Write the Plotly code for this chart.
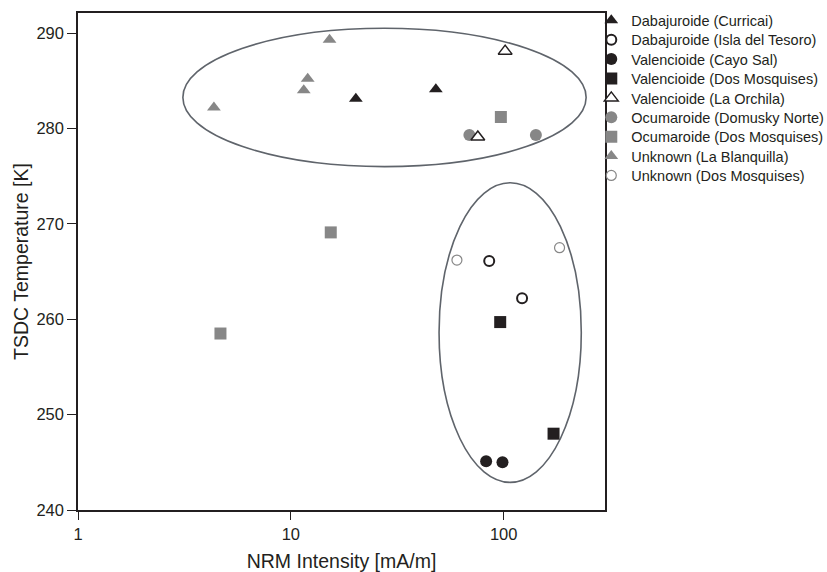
import plotly.graph_objects as go

# ---- data ----
curricai_x = [20.2, 48.0]
curricai_y = [283.1, 284.1]
tesoro_x = [85.5, 122.0]
tesoro_y = [266.1, 262.2]
cayosal_x = [82.7, 98.7]
cayosal_y = [245.1, 245.0]
valdos_x = [96.3, 171.5]
valdos_y = [259.7, 248.0]
orchila_x = [101.6, 75.6]
orchila_y = [288.1, 279.1]
domusky_x = [69.0, 141.7]
domusky_y = [279.3, 279.3]
ocudos_x = [97.0, 15.4, 4.67]
ocudos_y = [281.2, 269.1, 258.5]
blanq_x = [4.35, 11.5, 12.0, 15.2]
blanq_y = [282.2, 284.0, 285.2, 289.3]
unkdos_x = [60.3, 183.0]
unkdos_y = [266.2, 267.5]

x_ticks = [1, 10, 100]
x_ticklabels = ["1", "10", "100"]
y_ticks = [240, 250, 260, 270, 280, 290]

# ellipses (data coordinates of bounding boxes)
ell_upper = dict(x0=3.11, x1=244.0, y0=276.0, y1=290.5)
ell_lower = dict(x0=49.7, x1=231.5, y0=242.9, y1=274.3)

BLACK = "#231f20"
GRAY = "#878787"
FONT = "Liberation Sans, Arial, sans-serif"

# plot-area geometry (pixels)
W, H = 827, 572
ML, MR, MT, MB = 78.3, 222.3, 13.3, 61.5
PH = H - MT - MB
PW = W - ML - MR
LEG_LEFT_PX = 591.0
LEG_ROW0_PX = 20.7
LEG_ROW_STEP = 19.4

fig = go.Figure()

def add(name, xs, ys, symbol, size, fill, line_color, line_width, row):
    lid = "legend" if row == 0 else f"legend{row + 1}"
    fig.add_trace(go.Scatter(
        x=xs, y=ys, mode="markers", name=name, legend=lid,
        marker=dict(symbol=symbol, size=size, color=fill,
                    line=dict(color=line_color, width=line_width)),
    ))
    ypx = LEG_ROW0_PX + row * LEG_ROW_STEP
    fig.update_layout({lid: dict(
        x=(LEG_LEFT_PX - ML) / PW, y=(H - MB - ypx) / PH,
        xanchor="left", yanchor="middle",
        font=dict(size=14.5, family=FONT, color=BLACK),
        bgcolor="rgba(0,0,0,0)", itemwidth=30,
    )})

# drawing order; legend rows given explicitly
add("Ocumaroide (Domusky Norte)", domusky_x, domusky_y, "circle", 12, GRAY, GRAY, 0, 5)
add("Dabajuroide (Curricai)", curricai_x, curricai_y, "triangle-up", 12, BLACK, BLACK, 0, 0)
add("Dabajuroide (Isla del Tesoro)", tesoro_x, tesoro_y, "circle", 10, "white", BLACK, 2, 1)
add("Valencioide (Cayo Sal)", cayosal_x, cayosal_y, "circle", 12, BLACK, BLACK, 0, 2)
add("Valencioide (Dos Mosquises)", valdos_x, valdos_y, "square", 12, BLACK, BLACK, 0, 3)
add("Valencioide (La Orchila)", orchila_x, orchila_y, "triangle-up", 12, "white", BLACK, 1.5, 4)
add("Ocumaroide (Dos Mosquises)", ocudos_x, ocudos_y, "square", 12, GRAY, GRAY, 0, 6)
add("Unknown (La Blanquilla)", blanq_x, blanq_y, "triangle-up", 12, GRAY, GRAY, 0, 7)
add("Unknown (Dos Mosquises)", unkdos_x, unkdos_y, "circle", 10, "white", GRAY, 1.2, 8)

for e in (ell_upper, ell_lower):
    fig.add_shape(type="circle", xref="x", yref="y", layer="below",
                  line=dict(color="#5f646b", width=1.6), **e)

fig.update_layout(
    width=W, height=H,
    margin=dict(l=ML, r=MR, t=MT, b=MB, autoexpand=False),
    paper_bgcolor="white", plot_bgcolor="white",
    font=dict(family=FONT, color=BLACK, size=16),
    showlegend=True,
)
fig.update_xaxes(
    type="log", range=[0, 2.476], automargin=False,
    tickvals=x_ticks, ticktext=x_ticklabels,
    ticks="outside", ticklen=8, tickwidth=1.3, tickcolor=BLACK,
    showline=True, linecolor=BLACK, linewidth=1.5, mirror=True,
    showgrid=False, zeroline=False,
    tickfont=dict(size=16.5, family=FONT),
    title=dict(text="NRM Intensity [mA/m]", font=dict(size=19.5, family=FONT), standoff=13),
)
fig.update_yaxes(
    range=[240, 292.1], tickvals=y_ticks, automargin=False,
    ticks="outside", ticklen=9, tickwidth=1.3, tickcolor=BLACK,
    showline=True, linecolor=BLACK, linewidth=1.5, mirror=True,
    showgrid=False, zeroline=False,
    tickfont=dict(size=16.5, family=FONT),
    title=dict(text="TSDC Temperature [K]", font=dict(size=19.5, family=FONT), standoff=3),
)

fig.write_html("out.html")
